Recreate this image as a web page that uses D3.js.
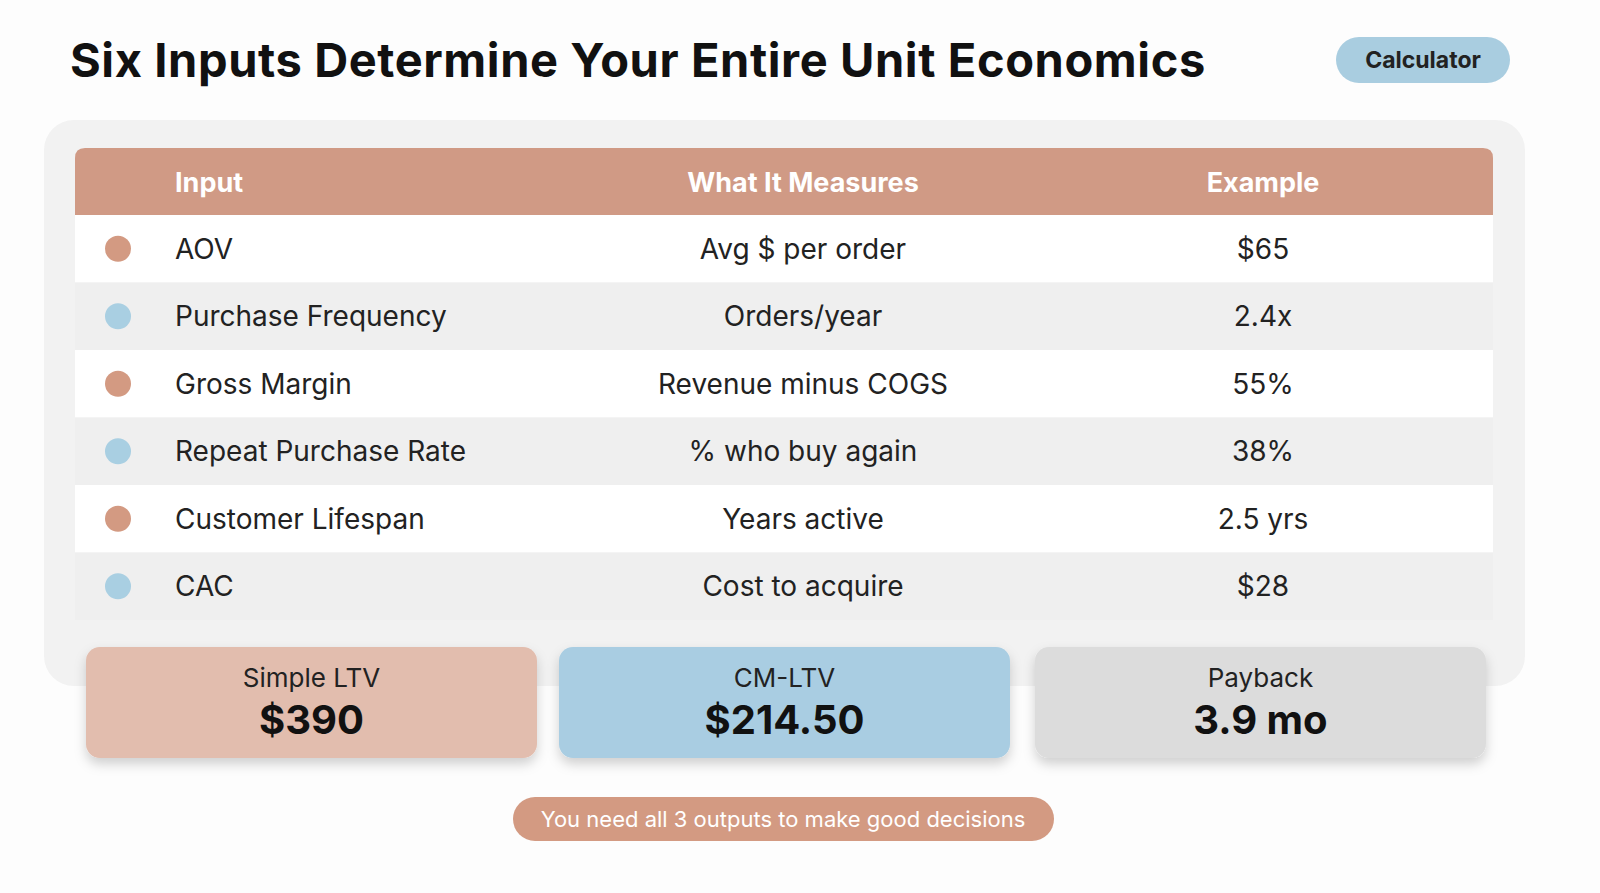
<!DOCTYPE html>
<html><head><meta charset="utf-8">
<script src="https://cdn.jsdelivr.net/npm/d3@7"></script>
<style>body{margin:0;background:#fff}svg{display:block;font-family:Inter,"Noto Sans",sans-serif}</style>
</head><body><svg></svg>
<script>
var headers=["Input","What It Measures","Example"];
var inputs=["AOV","Purchase Frequency","Gross Margin","Repeat Purchase Rate","Customer Lifespan","CAC"];
var measures=["Avg $ per order","Orders/year","Revenue minus COGS","% who buy again","Years active","Cost to acquire"];
var examples=["$65","2.4x","55%","38%","2.5 yrs","$28"];
var outLabels=["Simple LTV","CM-LTV","Payback"];
var outValues=["$390","$214.50","3.9 mo"];
var outColors=["#e2bdae","#a9cde2","#dcdcdc"];
var dotColors=["#d39a82","#a9cfe2"];

var W=1600,H=893;
var svg=d3.select("svg").attr("width",W).attr("height",H);
var defs=svg.append("defs");
var f=defs.append("filter").attr("id","sh").attr("x","-10%").attr("y","-20%").attr("width","120%").attr("height","160%");
f.append("feDropShadow").attr("dx",0).attr("dy",6).attr("stdDeviation",6).attr("flood-color","#000").attr("flood-opacity",0.18);

svg.append("rect").attr("width",W).attr("height",H).attr("fill","#fdfdfd");
svg.append("text").attr("x",70).attr("y",77).attr("font-size",47).attr("font-weight",700).attr("fill","#111")
  .attr("letter-spacing",0.6).text("Six Inputs Determine Your Entire Unit Economics");
svg.append("rect").attr("x",1336).attr("y",37).attr("width",174).attr("height",46).attr("rx",23).attr("fill","#a9cde0");
svg.append("text").attr("x",1423).attr("y",68).attr("text-anchor","middle").attr("font-size",23).attr("font-weight",700).attr("fill","#222").text("Calculator");

svg.append("rect").attr("x",44).attr("y",120).attr("width",1481).attr("height",566).attr("rx",30).attr("fill","#f2f2f2");

var x0=75,x1=1493,headTop=148,hh=67;
var y=d3.scaleBand().domain(d3.range(inputs.length)).range([215,620]);
var colX=[175,803,1263],anchors=["start","middle","middle"];

svg.append("path").attr("fill","#d09a85")
  .attr("d","M"+x0+","+(headTop+hh)+"V"+(headTop+10)+"Q"+x0+","+headTop+" "+(x0+10)+","+headTop+"H"+(x1-10)+"Q"+x1+","+headTop+" "+x1+","+(headTop+10)+"V"+(headTop+hh)+"Z");
svg.selectAll(".hd").data(headers).enter().append("text")
  .attr("x",function(d,i){return colX[i]}).attr("y",headTop+hh/2+10).attr("text-anchor",function(d,i){return anchors[i]})
  .attr("font-size",27).attr("font-weight",700).attr("fill","#fff").text(function(d){return d});

var rows=svg.selectAll(".row").data(inputs).enter().append("g")
  .attr("transform",function(d,i){return "translate(0,"+y(i)+")"});
rows.append("rect").attr("x",x0).attr("width",x1-x0).attr("height",y.bandwidth())
  .attr("fill",function(d,i){return i%2?"#efefef":"#ffffff"});
rows.append("circle").attr("cx",118).attr("cy",y.bandwidth()/2).attr("r",13)
  .attr("fill",function(d,i){return dotColors[i%2]});
var cells=[inputs,measures,examples];
cells.forEach(function(arr,c){
  rows.append("text").attr("x",colX[c]).attr("y",y.bandwidth()/2+10).attr("text-anchor",anchors[c])
    .attr("font-size",28).attr("fill","#222").text(function(d,i){return arr[i]});
});

var cardX=[86,559,1035],cw=451;
var cards=svg.selectAll(".card").data(outLabels).enter().append("g")
  .attr("transform",function(d,i){return "translate("+cardX[i]+",647)"});
cards.append("rect").attr("width",cw).attr("height",111).attr("rx",14)
  .attr("fill",function(d,i){return outColors[i]}).attr("filter","url(#sh)");
cards.append("text").attr("x",cw/2).attr("y",40).attr("text-anchor","middle").attr("font-size",26).attr("fill","#222").text(function(d){return d});
cards.append("text").attr("x",cw/2).attr("y",87).attr("text-anchor","middle").attr("font-size",40).attr("font-weight",700).attr("fill","#111")
  .text(function(d,i){return outValues[i]});

svg.append("rect").attr("x",513).attr("y",797).attr("width",541).attr("height",44).attr("rx",22).attr("fill","#d39a82");
svg.append("text").attr("x",783).attr("y",827).attr("text-anchor","middle").attr("font-size",22).attr("fill","#fff")
  .text("You need all 3 outputs to make good decisions");
</script></body></html>
